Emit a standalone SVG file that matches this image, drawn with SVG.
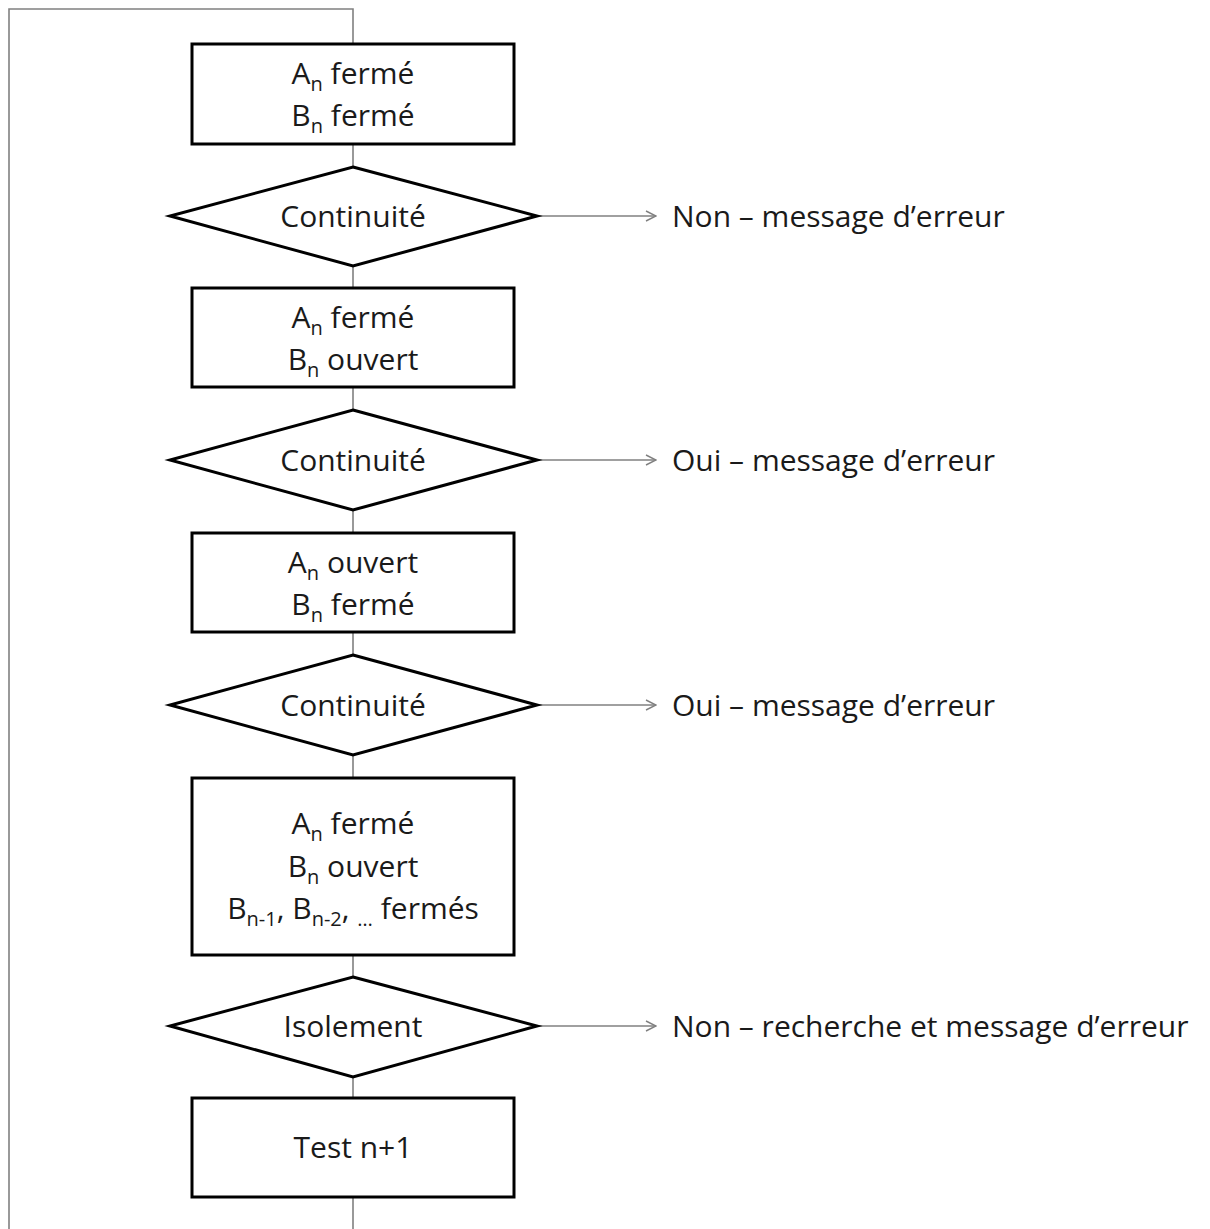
<svg xmlns="http://www.w3.org/2000/svg" width="1210" height="1229" viewBox="0 0 1210 1229">
<defs>
<style>
.box{fill:#fff;stroke:#000;stroke-width:3}
.con{fill:none;stroke:#808080;stroke-width:1.6}
.t{font-family:"Open Sans","Liberation Sans",sans-serif;font-size:30px;fill:#1a1a1a}
.c{text-anchor:middle}
.s{font-size:20px}
</style>
<marker id="arr" viewBox="0 0 12 12" refX="11" refY="6" markerWidth="12" markerHeight="12" markerUnits="userSpaceOnUse" orient="auto">
<path d="M1 1 L11 6 L1 11" fill="none" stroke="#808080" stroke-width="1.4"/>
</marker>
</defs>
<rect width="1210" height="1229" fill="#fff"/>
<g id="connectors">
<path class="con" d="M353 44 V9 H9 V1229"/>
<path class="con" d="M353 144 V167 M353 266 V288 M353 387 V410 M353 510 V533 M353 632 V655 M353 755 V778 M353 955 V977 M353 1077 V1098 M353 1197 V1229"/>
<path class="con" d="M537 216 H656" marker-end="url(#arr)"/>
<path class="con" d="M537 460 H656" marker-end="url(#arr)"/>
<path class="con" d="M537 705 H656" marker-end="url(#arr)"/>
<path class="con" d="M537 1026 H656" marker-end="url(#arr)"/>
</g>
<g id="n1">
<rect class="box" x="192" y="44" width="322" height="100"/>
<text class="t c" x="353" y="84">A<tspan class="s" dy="7">n</tspan><tspan dy="-7"> fermé</tspan></text>
<text class="t c" x="353" y="126">B<tspan class="s" dy="7">n</tspan><tspan dy="-7"> fermé</tspan></text>
</g>
<g id="d1">
<polygon class="box" points="353,167 537,216 353,266 170,216"/>
<text class="t c" x="353" y="227">Continuité</text>
</g>
<g id="n2">
<rect class="box" x="192" y="288" width="322" height="99"/>
<text class="t c" x="353" y="328">A<tspan class="s" dy="7">n</tspan><tspan dy="-7"> fermé</tspan></text>
<text class="t c" x="353" y="370">B<tspan class="s" dy="7">n</tspan><tspan dy="-7"> ouvert</tspan></text>
</g>
<g id="d2">
<polygon class="box" points="353,410 537,460 353,510 170,460"/>
<text class="t c" x="353" y="471">Continuité</text>
</g>
<g id="n3">
<rect class="box" x="192" y="533" width="322" height="99"/>
<text class="t c" x="353" y="573">A<tspan class="s" dy="7">n</tspan><tspan dy="-7"> ouvert</tspan></text>
<text class="t c" x="353" y="615">B<tspan class="s" dy="7">n</tspan><tspan dy="-7"> fermé</tspan></text>
</g>
<g id="d3">
<polygon class="box" points="353,655 537,705 353,755 170,705"/>
<text class="t c" x="353" y="716">Continuité</text>
</g>
<g id="n4">
<rect class="box" x="192" y="778" width="322" height="177"/>
<text class="t c" x="353" y="834">A<tspan class="s" dy="7">n</tspan><tspan dy="-7"> fermé</tspan></text>
<text class="t c" x="353" y="877">B<tspan class="s" dy="7">n</tspan><tspan dy="-7"> ouvert</tspan></text>
<text class="t c" x="353" y="919">B<tspan class="s" dy="7">n-1</tspan><tspan dy="-7">, B</tspan><tspan class="s" dy="7">n-2</tspan><tspan dy="-7">, </tspan><tspan class="s" dy="7">…</tspan><tspan dy="-7"> fermés</tspan></text>
</g>
<g id="d4">
<polygon class="box" points="353,977 537,1026 353,1077 170,1026"/>
<text class="t c" x="353" y="1037">Isolement</text>
</g>
<g id="n5">
<rect class="box" x="192" y="1098" width="322" height="99"/>
<text class="t c" x="353" y="1158">Test n+1</text>
</g>
<g id="labels">
<text class="t" x="672" y="227">Non – message d’erreur</text>
<text class="t" x="672" y="471">Oui – message d’erreur</text>
<text class="t" x="672" y="716">Oui – message d’erreur</text>
<text class="t" x="672" y="1037">Non – recherche et message d’erreur</text>
</g>
</svg>
